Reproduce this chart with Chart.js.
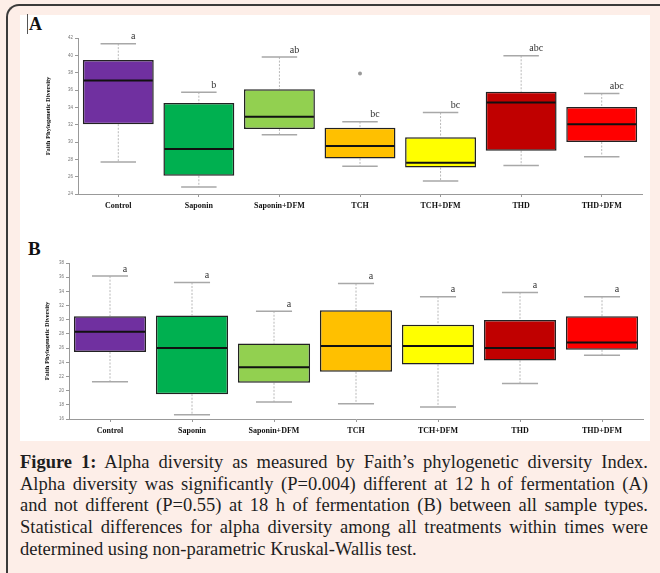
<!DOCTYPE html>
<html>
<head>
<meta charset="utf-8">
<script src="https://cdn.jsdelivr.net/npm/chart.js@4.4.0/dist/chart.umd.min.js"></script>
<style>
body{margin:0;background:#fdeee8;}
#frame{position:absolute;left:0;top:0;width:660px;height:573px;background:#fdeee8;overflow:hidden;}
#border{position:absolute;left:6px;top:4px;width:720px;height:620px;border-left:2px solid #3a3a3a;border-top:2px solid #3a3a3a;border-top-left-radius:13px;}
#white{position:absolute;left:20px;top:15px;width:630px;height:426px;background:#fff;}
.panel{position:absolute;font-family:"Liberation Serif",serif;font-weight:bold;color:#111;}
#lblA{left:27px;top:14px;font-size:18px;border-left:1px solid #555;padding-left:1px;line-height:20px;}
#lblB{left:28px;top:239px;font-size:19px;line-height:20px;}
#wrapA{position:absolute;left:20px;top:15px;width:630px;height:205px;}
#wrapB{position:absolute;left:20px;top:222px;width:630px;height:218px;}
#caption{position:absolute;left:20px;top:452px;width:628px;font-family:"Liberation Serif",serif;font-size:18.5px;line-height:21.7px;color:#1e1e1e;}
#caption div{text-align:justify;text-align-last:justify;white-space:nowrap;}
#caption div.last{text-align-last:left;}
</style>
</head>
<body>
<div id="frame">
  <div id="border"></div>
  <div id="white"></div>
  <div class="panel" id="lblA">A</div>
  <div class="panel" id="lblB">B</div>
  <div id="wrapA"><canvas id="chartA" width="630" height="205"></canvas></div>
  <div id="wrapB"><canvas id="chartB" width="630" height="218"></canvas></div>
  <div id="caption">
    <div><b>Figure 1:</b> Alpha diversity as measured by Faith’s phylogenetic diversity Index.</div>
    <div>Alpha diversity was significantly (P=0.004) different at 12 h of fermentation (A)</div>
    <div>and not different (P=0.55) at 18 h of fermentation (B) between all sample types.</div>
    <div>Statistical differences for alpha diversity among all treatments within times were</div>
    <div class="last">determined using non-parametric Kruskal-Wallis test.</div>
  </div>
</div>
<script>
// categorias y colores
var categorias = ['Control', 'Saponin', 'Saponin+DFM', 'TCH', 'TCH+DFM', 'THD', 'THD+DFM'];
var colores = ['#7030a0', '#00b050', '#92d050', '#ffc000', '#ffff00', '#c00000', '#ff0000'];

// panel A (12 h)
var minA = [27.7, 24.8, 30.85, 27.2, 25.5, 27.3, 28.3];
var q1A = [32.05, 26.1, 31.5, 28.1, 27.05, 29.0, 30.0];
var medianaA = [37.1, 29.2, 32.9, 29.55, 27.6, 34.55, 32.05];
var q3A = [39.45, 34.5, 36.1, 31.65, 30.55, 35.8, 34.05];
var maxA = [41.35, 35.75, 39.8, 32.35, 33.4, 39.95, 35.6];
var atipicosA = [null, null, null, 37.9, null, null, null];
var letrasA = ['a', 'b', 'ab', 'bc', 'bc', 'abc', 'abc'];
var ticksA = [24, 26, 28, 30, 32, 34, 36, 38, 40, 42];

// panel B (18 h)
var minB = [21.25, 16.6, 18.4, 18.15, 17.7, 21.0, 25.0];
var q1B = [25.45, 19.5, 21.1, 22.65, 23.7, 24.25, 25.75];
var medianaB = [28.3, 26.0, 23.3, 26.3, 26.3, 26.0, 26.8];
var q3B = [30.5, 30.6, 26.65, 31.35, 29.3, 29.95, 30.5];
var maxB = [36.15, 35.25, 31.2, 35.1, 33.25, 33.85, 33.25];
var atipicosB = [null, null, null, null, null, null, null];
var letrasB = ['a', 'a', 'a', 'a', 'a', 'a', 'a'];
var ticksB = [16, 18, 20, 22, 24, 26, 28, 30, 32, 34, 36, 38];

// dibuja bigotes, medianas y letras sobre las cajas
var cajasPlugin = {
  id: 'cajas',
  beforeDatasetsDraw: function(chart) {
    var o = chart.options.plugins.cajas;
    var ctx = chart.ctx, y = chart.scales.y;
    var meta = chart.getDatasetMeta(0);
    ctx.save();
    meta.data.forEach(function(bar, i) {
      var x = bar.x, half = bar.width / 4;
      ctx.strokeStyle = '#b8b8b8';
      ctx.lineWidth = 1;
      ctx.setLineDash([2, 1.5]);
      ctx.beginPath();
      ctx.moveTo(x, y.getPixelForValue(o.max[i]));
      ctx.lineTo(x, y.getPixelForValue(o.q3[i]));
      ctx.moveTo(x, y.getPixelForValue(o.q1[i]));
      ctx.lineTo(x, y.getPixelForValue(o.min[i]));
      ctx.stroke();
      ctx.setLineDash([]);
      ctx.strokeStyle = '#a8a8a8';
      ctx.lineWidth = 1.5;
      ctx.beginPath();
      ctx.moveTo(x - half, y.getPixelForValue(o.max[i]));
      ctx.lineTo(x + half, y.getPixelForValue(o.max[i]));
      ctx.moveTo(x - half, y.getPixelForValue(o.min[i]));
      ctx.lineTo(x + half, y.getPixelForValue(o.min[i]));
      ctx.stroke();
    });
    ctx.restore();
  },
  afterDatasetsDraw: function(chart) {
    var o = chart.options.plugins.cajas;
    var ctx = chart.ctx, y = chart.scales.y;
    var meta = chart.getDatasetMeta(0);
    ctx.save();
    meta.data.forEach(function(bar, i) {
      var x = bar.x, w = bar.width / 2;
      var ym = y.getPixelForValue(o.mediana[i]);
      ctx.strokeStyle = '#111';
      ctx.lineWidth = 2;
      ctx.beginPath();
      ctx.moveTo(x - w + 1, ym);
      ctx.lineTo(x + w - 1, ym);
      ctx.stroke();
      ctx.fillStyle = '#333';
      ctx.font = o.fuente + 'px "Liberation Serif", serif';
      ctx.textAlign = 'center';
      ctx.textBaseline = 'bottom';
      ctx.fillText(o.letras[i], x + 15, y.getPixelForValue(o.max[i]) - 2);
    });
    ctx.restore();
  }
};

function crearGrafico(id, d) {
  return new Chart(document.getElementById(id).getContext('2d'), {
    type: 'bar',
    data: {
      labels: categorias,
      datasets: [{
        data: d.q1.map(function(v, i) { return [v, d.q3[i]]; }),
        backgroundColor: colores,
        borderColor: '#222',
        borderWidth: 1.5,
        borderSkipped: false,
        barPercentage: 0.88,
        categoryPercentage: 1
      }, {
        type: 'line',
        data: d.atipicos,
        showLine: false,
        pointRadius: 2,
        pointBackgroundColor: '#999',
        pointBorderWidth: 0
      }]
    },
    options: {
      responsive: false,
      animation: false,
      layout: {padding: {top: d.arriba, right: d.derecha, left: 0, bottom: 0}},
      plugins: {
        legend: {display: false},
        tooltip: {enabled: false},
        cajas: {min: d.min, q1: d.q1, mediana: d.mediana, q3: d.q3, max: d.max, letras: d.letras, fuente: d.fuente}
      },
      scales: {
        x: {
          grid: {drawOnChartArea: false, offset: false, tickLength: 3, color: '#999'},
          border: {color: '#999'},
          ticks: {color: '#111', padding: 4, maxRotation: 0, font: {family: '"Liberation Serif", serif', size: 8, weight: 'bold'}},
          afterFit: function(s) { s.height = d.altoX; }
        },
        y: {
          min: d.ticks[0],
          max: d.ticks[d.ticks.length - 1],
          afterBuildTicks: function(s) { s.ticks = d.ticks.map(function(v) { return {value: v}; }); },
          grid: {drawOnChartArea: false, tickLength: 3, color: '#999'},
          border: {color: '#999'},
          ticks: {color: '#777', padding: 2, font: {family: '"Liberation Sans", sans-serif', size: 4.5}},
          title: {display: true, text: 'Faith Phylogenetic Diversity', color: '#111', padding: {top: d.tituloX, bottom: 0},
            font: {family: '"Liberation Serif", serif', size: 6.5, weight: 'bold'}},
          afterFit: function(s) { s.width = d.anchoY; }
        }
      }
    },
    plugins: [cajasPlugin]
  });
}

var graficoA = crearGrafico('chartA', {min: minA, q1: q1A, mediana: medianaA, q3: q3A, max: maxA, atipicos: atipicosA,
  letras: letrasA, ticks: ticksA, arriba: 23, derecha: 8, altoX: 26, anchoY: 58, tituloX: 24, fuente: 10});
var graficoB = crearGrafico('chartB', {min: minB, q1: q1B, mediana: medianaB, q3: q3B, max: maxB, atipicos: atipicosB,
  letras: letrasB, ticks: ticksB, arriba: 41, derecha: 7, altoX: 21, anchoY: 49, tituloX: 23, fuente: 10});
</script>
</body>
</html>
